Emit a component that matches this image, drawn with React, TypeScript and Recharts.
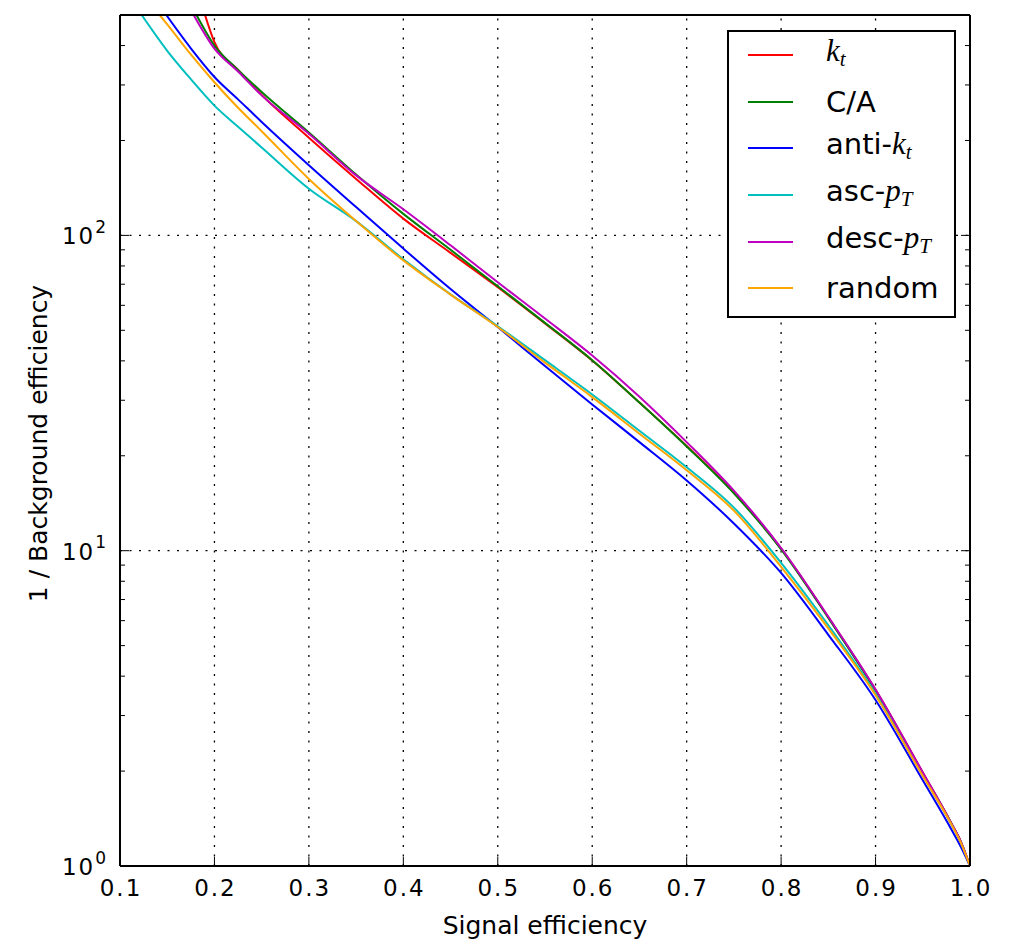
import { Label, Legend, Line, LineChart, ReferenceLine, XAxis, YAxis } from 'recharts';

// signal efficiency grid shared by all curves
const effGrid = [0.15, 0.175, 0.2, 0.225, 0.25, 0.3, 0.35, 0.4, 0.45, 0.5, 0.55, 0.6, 0.65, 0.7, 0.75, 0.8, 0.85, 0.9, 0.95, 0.98, 0.99, 1.0];

// 1 / background efficiency, null where the curve is still above the frame
const ktRej = [null, null, 410, 335, 279, 204, 151, 113, 88, 68.5, 52.6, 40.1, 29.5, 21.5, 15.3, 10.15, 6.15, 3.62, 1.98, 1.37, 1.2, 1.0];
const caRej = [null, null, 400, 335, 285, 212, 156, 117, 90, 69, 52.8, 40.2, 29.5, 21.4, 15.2, 10.1, 6.12, 3.6, 1.97, 1.37, 1.2, 1.0];
const antiKtRej = [null, 392, 318, 270, 229, 167, 123, 90.8, 67.6, 51.2, 38.5, 29.1, 22.1, 16.7, 12.2, 8.5, 5.41, 3.36, 1.87, 1.31, 1.155, 1.0];
const ascRej = [385, 313, 258, 221, 190, 140.6, 111, 84, 65, 51.5, 40.2, 31.3, 24.0, 18.4, 13.7, 9.15, 5.8, 3.52, 1.94, 1.36, 1.19, 1.0];
const descRej = [null, null, 391, 331, 278, 210, 155, 121, 93, 71, 54.5, 41.6, 30.8, 22.1, 15.5, 10.2, 6.17, 3.63, 1.98, 1.37, 1.2, 1.0];
const randomRej = [467, 375, 306, 254, 214, 151, 111, 83.3, 64.9, 51.2, 39.5, 30.7, 23.5, 18.0, 13.4, 8.89, 5.67, 3.48, 1.93, 1.36, 1.19, 1.0];

// where each curve comes in through the top of the frame
const entryEff = [0.19, 0.181, 0.149, 0.123, 0.178, 0.142];
const frameTop = 500;

const seriesNames = ['k_t', 'C/A', 'anti-k_t', 'asc-p_T', 'desc-p_T', 'random'];
const seriesColors = ['#ff0000', '#008000', '#0000ff', '#00bfbf', '#bf00bf', '#ffa500'];

const xTicks = [0.1, 0.2, 0.3, 0.4, 0.5, 0.6, 0.7, 0.8, 0.9, 1.0];
const xGrid = [0.2, 0.3, 0.4, 0.5, 0.6, 0.7, 0.8, 0.9];
const yMajor = [1, 10, 100];
const yMinor = [2, 3, 4, 5, 6, 7, 8, 9, 20, 30, 40, 50, 60, 70, 80, 90, 200, 300, 400];
const yGrid = [10, 100];

const FONT = '"DejaVu Sans", sans-serif';
const MATH = '"Liberation Serif", "DejaVu Serif", serif';
const TICK_GAP = 10;
const MAJOR_LEN = 9;
const MINOR_LEN = 5;

const rejections = [ktRej, caRej, antiKtRej, ascRej, descRej, randomRej];
const series = seriesNames.map((name, i) => {
  const pts: { eff: number; rej: number }[] = [];
  const start = entryEff[i];
  if (start !== null) pts.push({ eff: start, rej: frameTop });
  effGrid.forEach((e, j) => {
    const v = rejections[i][j];
    if (v !== null) pts.push({ eff: e, rej: v });
  });
  return { name, color: seriesColors[i], pts };
});

function LeftTick(props: any) {
  const { x, y, payload } = props;
  const axisX = x + TICK_GAP;
  const v = payload.value;
  const major = yMajor.includes(v);
  return (
    <g>
      <line x1={axisX} x2={axisX + (major ? MAJOR_LEN : MINOR_LEN)} y1={y} y2={y} stroke="#000" />
      {major && (
        <text x={axisX - 14} y={y + 9} textAnchor="end" fontSize={23} fontFamily={FONT} fill="#000">
          <tspan letterSpacing={2}>10</tspan>
          <tspan dy={-11.5} fontSize={17}>
            {Math.round(Math.log10(v))}
          </tspan>
        </text>
      )}
    </g>
  );
}

function RightTick(props: any) {
  const { x, y, payload } = props;
  const axisX = x - TICK_GAP;
  const major = yMajor.includes(payload.value);
  return <line x1={axisX} x2={axisX - (major ? MAJOR_LEN : MINOR_LEN)} y1={y} y2={y} stroke="#000" />;
}

function BottomTick(props: any) {
  const { x, y, payload } = props;
  const axisY = y - TICK_GAP;
  return (
    <g>
      <line x1={x} x2={x} y1={axisY} y2={axisY - MAJOR_LEN} stroke="#000" />
      <text x={x + 1} y={axisY + 30} textAnchor="middle" fontSize={23} letterSpacing={2} fontFamily={FONT} fill="#000">
        {payload.value.toFixed(1)}
      </text>
    </g>
  );
}

function TopTick(props: any) {
  const { x, y } = props;
  const axisY = y + TICK_GAP;
  return <line x1={x} x2={x} y1={axisY} y2={axisY + MAJOR_LEN} stroke="#000" />;
}

function MathName({ name }: { name: string }) {
  const u = name.indexOf('_');
  if (u < 0) return <span>{name}</span>;
  const dash = name.lastIndexOf('-', u);
  return (
    <span>
      {name.slice(0, dash + 1)}
      <span style={{ fontFamily: MATH, fontStyle: 'italic', fontSize: 31 }}>{name.slice(dash + 1, u)}</span>
      <span style={{ fontFamily: MATH, fontStyle: 'italic', fontSize: 21, verticalAlign: '-5px' }}>{name.slice(u + 1)}</span>
    </span>
  );
}

function renderLegend(props: any) {
  const items = [...(props.payload ?? [])].sort(
    (a: any, b: any) => seriesNames.indexOf(a.value) - seriesNames.indexOf(b.value),
  );
  return (
    <div
      style={{
        boxSizing: 'border-box',
        width: 229,
        height: 288,
        border: '2px solid #000',
        background: '#fff',
      }}
    >
      {items.map((it: any) => (
        <div key={it.value} style={{ display: 'flex', alignItems: 'center', height: 46.6 }}>
          <div style={{ marginLeft: 19, width: 45, height: 2, background: it.color }} />
          <div style={{ marginLeft: 33, fontFamily: FONT, fontSize: 29, lineHeight: '34px', color: '#000', whiteSpace: 'nowrap' }}>
            <MathName name={it.value} />
          </div>
        </div>
      ))}
    </div>
  );
}

export default function App() {
  return (
    <div style={{ position: 'absolute', left: 0, top: 0, width: 1019, height: 939, background: '#fff', fontFamily: FONT }}>
      <LineChart width={1019} height={939} margin={{ top: 10, right: 39, bottom: 0, left: 0 }}>
        <XAxis
          xAxisId="b"
          dataKey="eff"
          type="number"
          domain={[0.1, 1]}
          ticks={xTicks}
          interval={0}
          allowDataOverflow
          height={73}
          tickSize={0}
          tickMargin={TICK_GAP}
          tick={BottomTick}
          axisLine={{ stroke: '#000', strokeWidth: 2 }}
          tickLine={false}
        >
          <Label
            content={(p: any) => {
              const vb = p.viewBox;
              return (
                <text x={vb.x + vb.width / 2} y={vb.y + 68} textAnchor="middle" fontSize={25} fontFamily={FONT} fill="#000">
                  Signal efficiency
                </text>
              );
            }}
          />
        </XAxis>
        <XAxis
          xAxisId="t"
          orientation="top"
          type="number"
          domain={[0.1, 1]}
          ticks={xTicks}
          interval={0}
          allowDataOverflow
          height={5}
          tickSize={0}
          tickMargin={TICK_GAP}
          tick={TopTick}
          axisLine={{ stroke: '#000', strokeWidth: 2 }}
          tickLine={false}
        />
        <YAxis
          yAxisId="l"
          type="number"
          scale="log"
          domain={[1, frameTop]}
          ticks={[...yMajor, ...yMinor]}
          interval={0}
          allowDataOverflow
          width={120}
          tickSize={0}
          tickMargin={TICK_GAP}
          tick={LeftTick}
          axisLine={{ stroke: '#000', strokeWidth: 2 }}
          tickLine={false}
        >
          <Label
            content={(p: any) => {
              const vb = p.viewBox;
              const cx = vb.x + 38;
              const cy = vb.y + vb.height / 2 + 3;
              return (
                <text
                  x={cx}
                  y={cy}
                  transform={`rotate(-90 ${cx} ${cy})`}
                  textAnchor="middle"
                  dominantBaseline="central"
                  fontSize={25}
                  fontFamily={FONT}
                  fill="#000"
                >
                  1 / Background efficiency
                </text>
              );
            }}
          />
        </YAxis>
        <YAxis
          yAxisId="r"
          orientation="right"
          type="number"
          scale="log"
          domain={[1, frameTop]}
          ticks={[...yMajor, ...yMinor]}
          interval={0}
          allowDataOverflow
          width={10}
          tickSize={0}
          tickMargin={TICK_GAP}
          tick={RightTick}
          axisLine={{ stroke: '#000', strokeWidth: 2 }}
          tickLine={false}
        />
        {xGrid.map((v) => (
          <ReferenceLine key={`x${v}`} x={v} xAxisId="b" yAxisId="l" stroke="#000" strokeWidth={1.3} strokeDasharray="2 7.5" />
        ))}
        {yGrid.map((v) => (
          <ReferenceLine key={`y${v}`} y={v} xAxisId="b" yAxisId="l" stroke="#000" strokeWidth={1.3} strokeDasharray="2 7.5" />
        ))}
        {series.map((s) => (
          <Line
            key={s.name}
            xAxisId="b"
            yAxisId="l"
            data={s.pts}
            dataKey="rej"
            name={s.name}
            type="monotone"
            stroke={s.color}
            strokeWidth={2}
            dot={false}
            activeDot={false}
            isAnimationActive={false}
          />
        ))}
        <Legend
          layout="horizontal"
          verticalAlign="middle"
          align="center"
          wrapperStyle={{ left: 727, top: 30, width: 229, height: 288 }}
          content={renderLegend}
        />
      </LineChart>
    </div>
  );
}
